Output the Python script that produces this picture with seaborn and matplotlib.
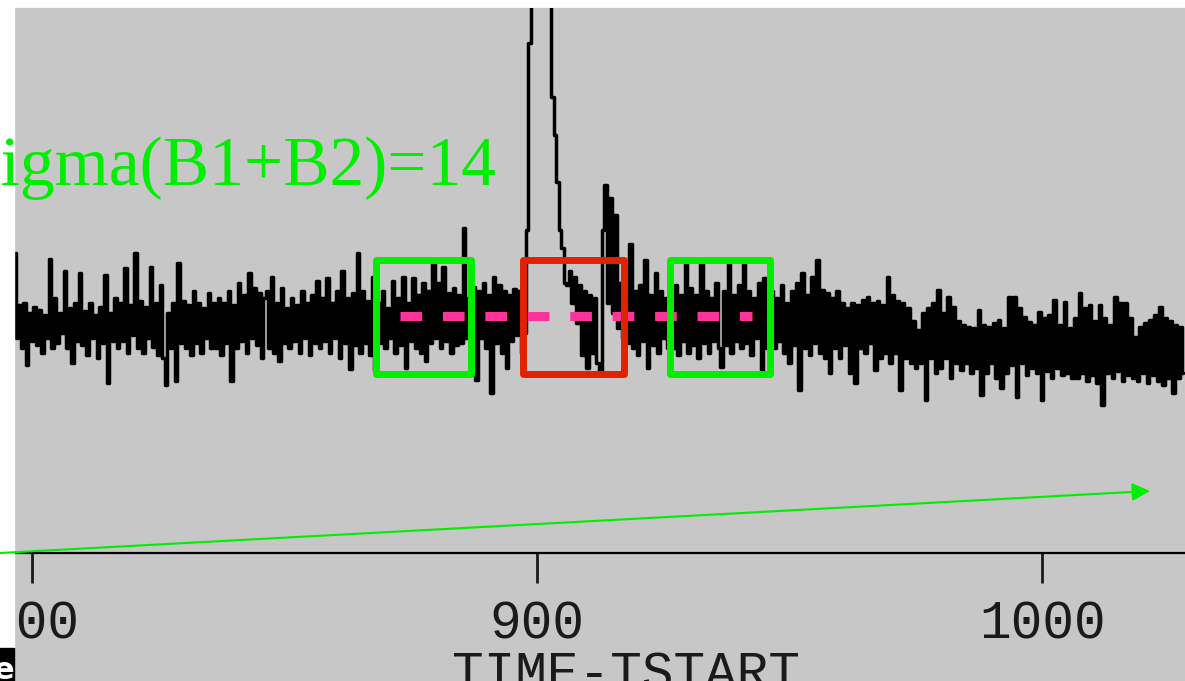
import matplotlib
matplotlib.use("Agg")
import matplotlib.pyplot as plt
import seaborn as sns
import numpy as np
import pandas as pd
from matplotlib.patches import Rectangle, FancyArrowPatch

# light curve, 0.5 s bins starting at TIME-TSTART = 796.5
t_first = 796.5
bin_width = 0.5
rate = [
    300, 215, 248, 205, 250, 188, 240, 212, 246, 208, 243, 200, 238, 215, 294, 205, 255, 210, 240, 220,
    282, 205, 245, 190, 250, 212, 280, 208, 242, 198, 250, 215, 238, 195, 246, 210, 278, 170, 240, 212,
    255, 205, 250, 212, 285, 200, 248, 218, 300, 205, 252, 200, 246, 215, 286, 206, 250, 198, 268, 195,
    168, 240, 205, 250, 172, 290, 210, 252, 205, 248, 198, 262, 210, 250, 200, 245, 215, 260, 205, 250,
    205, 255, 198, 250, 210, 262, 172, 248, 205, 270, 212, 258, 200, 280, 215, 265, 208, 260, 195, 255,
    262, 205, 276, 200, 250, 192, 265, 210, 245, 205, 255, 212, 248, 200, 262, 215, 250, 198, 258, 210,
    272, 205, 255, 212, 275, 200, 250, 215, 262, 195, 282, 210, 255, 184, 260, 208, 300, 200, 262, 210,
    252, 198, 276, 183, 250, 210, 262, 205, 245, 215, 272, 200, 255, 208, 276, 185, 250, 212, 275, 205,
    258, 200, 270, 192, 262, 210, 290, 215, 270, 205, 286, 212, 260, 200, 265, 208, 258, 210, 325, 215,
    255, 210, 266, 173, 262, 215, 270, 205, 258, 160, 276, 210, 268, 200, 262, 185, 258, 212, 264, 218,
    262, 200, 220, 323, 510, 640, 760, 850, 900, 860, 790, 700, 600, 456, 418, 371, 323, 305, 270, 268,
    282, 250, 276, 230, 268, 198, 262, 185, 258, 200, 255, 190, 181, 323, 368, 250, 355, 240, 338, 225,
    270, 215, 260, 210, 309, 205, 262, 198, 268, 212, 293, 185, 258, 208, 280, 200, 262, 215, 255, 205,
    262, 205, 268, 198, 258, 212, 291, 200, 265, 208, 258, 195, 293, 210, 262, 200, 255, 212, 270, 205,
    186, 262, 208, 290, 200, 258, 212, 268, 205, 293, 210, 262, 198, 255, 215, 270, 183, 275, 205, 258,
    262, 205, 255, 212, 268, 200, 250, 190, 262, 208, 270, 163, 280, 205, 258, 198, 276, 210, 293, 200,
    263, 195, 260, 180, 255, 205, 262, 195, 250, 208, 245, 180, 250, 170, 248, 205, 253, 200, 256, 210,
    250, 183, 252, 195, 248, 200, 276, 190, 258, 200, 252, 163, 250, 195, 245, 190, 232, 185, 223, 190,
    240, 153, 245, 195, 250, 180, 263, 185, 240, 195, 256, 175, 246, 190, 232, 183, 228, 190, 226, 180,
    225, 185, 243, 158, 228, 180, 226, 190, 230, 175, 233, 165, 225, 180, 256, 188, 256, 156, 245, 190,
    236, 178, 231, 185, 228, 180, 241, 153, 235, 182, 238, 175, 253, 185, 228, 178, 251, 180, 225, 175,
    235, 175, 260, 180, 245, 172, 248, 178, 232, 170, 248, 148, 235, 180, 228, 175, 256, 182, 250, 172,
    250, 178, 235, 175, 216, 172, 226, 180, 230, 170, 233, 178, 238, 172, 246, 168, 235, 175, 232, 160,
    228, 175, 226, 180,
]
tick_values = [800, 900, 1000]

# background estimate and the windows used for it
bkg_level = 237
bkg_span = [872.9, 942.6]
bkg_windows = [(868.0, 886.9), (926.3, 946.1)]
src_window = (897.2, 917.2)
sigma_label = "Sigma(B1+B2)=14"

time = t_first + bin_width * np.arange(len(rate))
df = pd.DataFrame({"TIME-TSTART": time, "RATE": rate})

W, H = 1185, 681
gray = "#c7c7c7"
green = "#00ee00"
red = "#e02200"
pink = "#ff3399"
ink = "#1a1a1a"
mono = "Liberation Mono"

sns.set_style("white", {"axes.facecolor": gray})
fig = plt.figure(figsize=(W / 100, H / 100), dpi=100, facecolor="white")
fig.patches.append(Rectangle((14 / W, 0), 1 - 14 / W, 1 - 8 / H,
                             transform=fig.transFigure, color=gray, zorder=-2))

ax = fig.add_axes([14 / W, 128 / H, 1171 / W, 545 / H])
ax.set_facecolor(gray)

sns.lineplot(data=df, x="TIME-TSTART", y="RATE", ax=ax, color="black",
             linewidth=2.5, drawstyle="steps-mid", estimator=None, zorder=3)

ax.plot(bkg_span, [bkg_level, bkg_level], color=pink, linewidth=6.5,
        dashes=(2.4, 2.3), solid_capstyle="butt", dash_capstyle="butt", zorder=4)

for (a, b) in bkg_windows:
    ax.add_patch(Rectangle((a, 179), b - a, 114.5, fill=False, edgecolor=green,
                           linewidth=5, joinstyle="round", zorder=5))
a, b = src_window
ax.add_patch(Rectangle((a, 179), b - a, 114.5, fill=False, edgecolor=red,
                       linewidth=5, joinstyle="round", zorder=5))

ax.set_xlim(796.4, 1028.3)
ax.set_ylim(0, 545)
ax.set_yticks([])
ax.set_ylabel("")
for s in ["left", "top", "right"]:
    ax.spines[s].set_visible(False)
ax.spines["bottom"].set_linewidth(1.6)
ax.spines["bottom"].set_color("black")

ax.set_xticks(tick_values)
ax.set_xticklabels([str(v) for v in tick_values])
ax.tick_params(axis="x", direction="out", length=21.6, width=2, pad=12,
               labelsize=38, color=ink, labelcolor=ink, bottom=True)
for lab in ax.get_xticklabels():
    lab.set_family(mono)

ax.set_xlabel("TIME-TSTART", fontsize=38, family=mono, color=ink)
ax.xaxis.set_label_coords(0.523, -0.178)
ax.xaxis.label.set_va("top")

# white margin strip on the left, over the axes but under the annotations
fig.patches.append(Rectangle((0, 33 / H), 14 / W, 1 - 33 / H,
                             transform=fig.transFigure, color="white", zorder=5))

fig.text(496 / W, 1 - 185 / H, sigma_label, ha="right", va="baseline",
         fontsize=50, family="Liberation Serif", color=green, zorder=10)

arrow = FancyArrowPatch((0, 1 - 553 / H), (1150 / W, 1 - 491 / H),
                        transform=fig.transFigure, arrowstyle="-|>",
                        mutation_scale=27, color=green, linewidth=1.5,
                        shrinkA=0, shrinkB=0, zorder=10)
fig.patches.append(arrow)

box = Rectangle((0, 0), 14 / W, 33 / H, transform=fig.transFigure,
                color="black", zorder=11)
fig.patches.append(box)
t = fig.text(-6 / W, 2 / H, "ec", ha="left", va="baseline", fontsize=22,
             fontweight="bold", color="white", family="DejaVu Sans", zorder=12)
t.set_clip_path(box)

fig.savefig("out.png", dpi=100, facecolor="white")
plt.close(fig)
